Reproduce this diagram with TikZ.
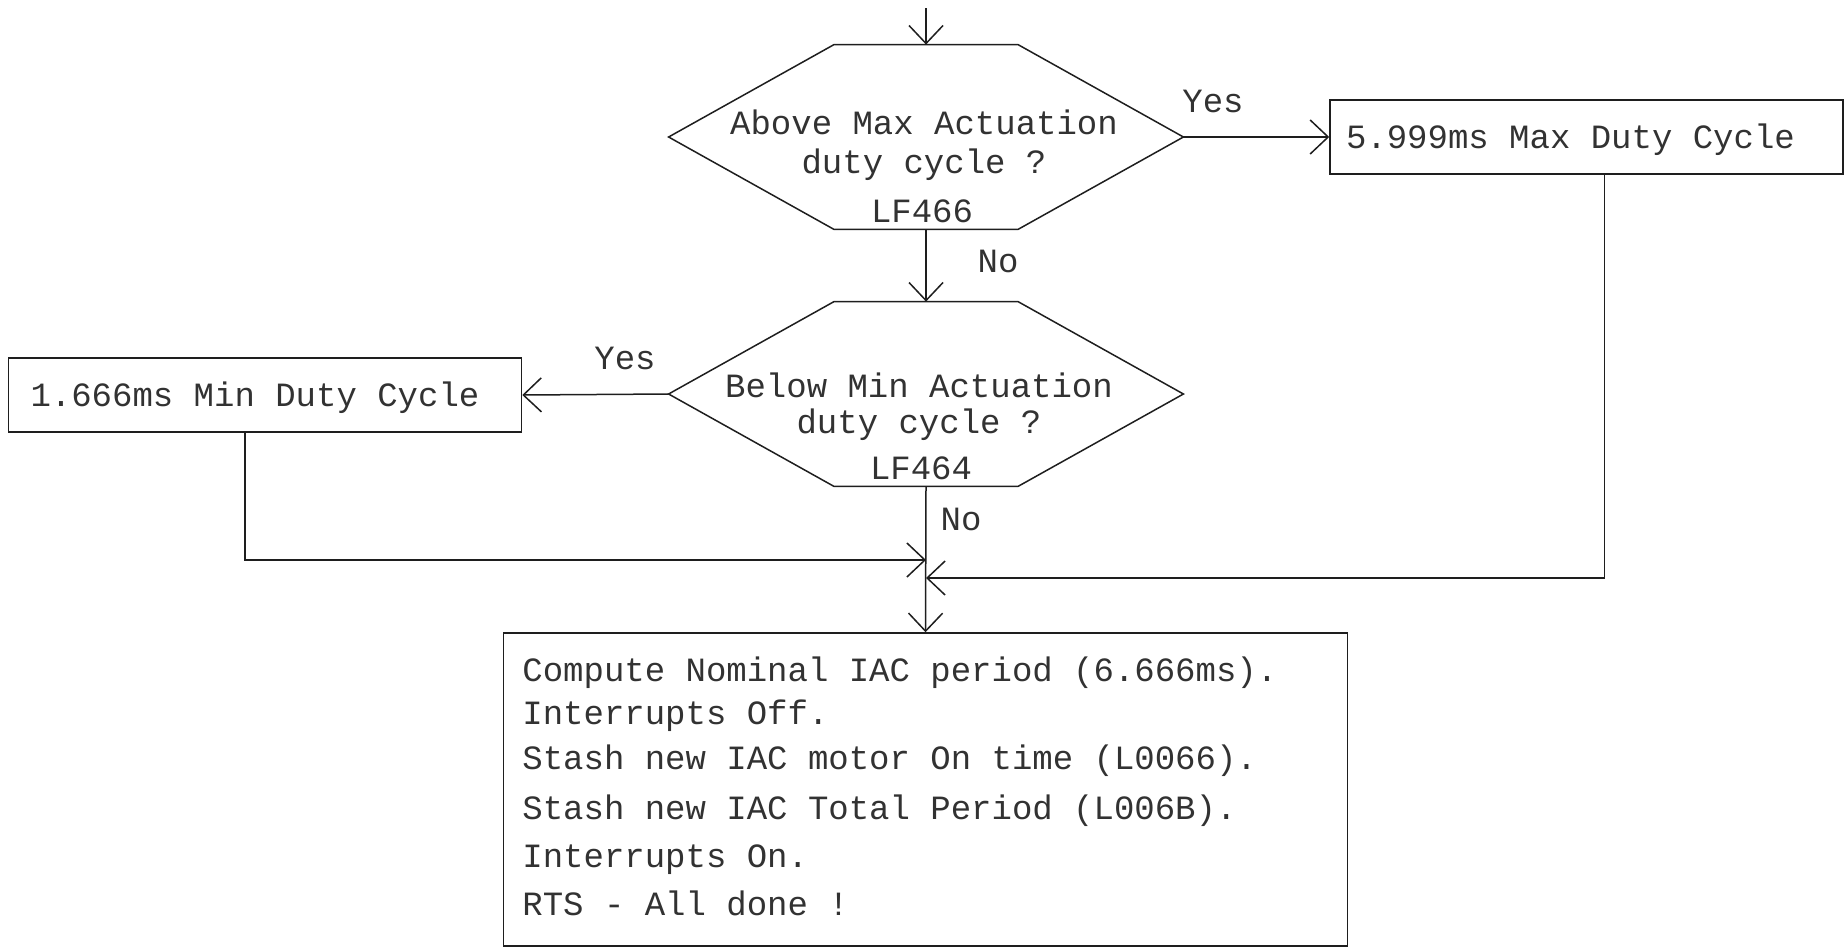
\documentclass[tikz,border=0pt]{standalone}
\usepackage{fontspec}
\newfontfamily\cad{Liberation Mono}
\usetikzlibrary{arrows.meta,calc}
\definecolor{ink}{RGB}{30,30,30}
\definecolor{textink}{RGB}{50,50,50}
\begin{document}
\begin{tikzpicture}[x=0.5pt,y=-0.5pt,
  ln/.style={line width=0.75pt, draw=ink},
  arr/.style={ln, -{Straight Barb[length=9pt,width=17pt]}},
  txt/.style={font=\cad\fontsize{17pt}{20pt}\selectfont, text=textink, inner sep=0pt},
  lbl/.style={txt, anchor=base},
  linetxt/.style={txt, anchor=base west},
  dutybox/.style={ln, rectangle, txt, minimum width=256.5pt, minimum height=37pt,
    inner xsep=8pt, inner ysep=0pt, text height=11.2pt, text depth=0pt},
  hexshape/.style={minimum width=257pt, minimum height=92pt, inner sep=0pt},
  procbox/.style={ln, rectangle, minimum width=422pt, minimum height=156.5pt, inner sep=0pt}]
\useasboundingbox (0,0) rectangle (1845,948);

% decision 1
\node[hexshape] (q1) at (926,137) {};
\draw[ln] (q1.west) -- ($(q1.north)+(-92,0)$) -- ($(q1.north)+(92,0)$) -- (q1.east)
  -- ($(q1.south)+(92,0)$) -- ($(q1.south)+(-92,0)$) -- cycle;
\node[lbl] (q1a) at (924,134) {Above Max Actuation};
\node[lbl] (q1b) at (924,173) {duty cycle ?};
\node[lbl] (q1c) at (922,222) {LF466};

% decision 2
\node[hexshape] (q2) at (926,394) {};
\draw[ln] (q2.west) -- ($(q2.north)+(-92,0)$) -- ($(q2.north)+(92,0)$) -- (q2.east)
  -- ($(q2.south)+(92,0)$) -- ($(q2.south)+(-92,0)$) -- cycle;
\node[lbl] (q2a) at (919,397) {Below Min Actuation};
\node[lbl] (q2b) at (919,433) {duty cycle ?};
\node[lbl] (q2c) at (921,479) {LF464};

% duty boxes
\node[dutybox] (maxb) at (1586.5,137) {\hbox to 240.5pt{5.999ms Max Duty Cycle\hss}};
\node[dutybox] (minb) at (265,395) {\hbox to 240.5pt{\hspace*{3pt}1.666ms Min Duty Cycle\hss}};

% process box
\node[procbox] (act) at (925.5,789.5) {};
\node[linetxt] (l1) at (522,681.5) {Compute Nominal IAC period (6.666ms).};
\node[linetxt] (l2) at (522,724.5) {Interrupts Off.};
\node[linetxt] (l3) at (522,769) {Stash new IAC motor On time (L0066).};
\node[linetxt] (l4) at (522,819) {Stash new IAC Total Period (L006B).};
\node[linetxt] (l5) at (522,867) {Interrupts On.};
\node[linetxt] (l6) at (522,915) {RTS - All done !};

% labels
\node[lbl] (yes1) at (1213,112) {Yes};
\node[lbl] (no1) at (998,272) {No};
\node[lbl] (yes2) at (625,369) {Yes};
\node[lbl] (no2) at (961,530) {No};

% connectors
\coordinate (start) at (926,8);
\coordinate (j1) at (926,560);
\coordinate (j2) at (926,578);
\draw[arr] (start) -- (q1.north);
\draw[arr] (q1.east) -- (maxb.west);
\draw[arr] (q1.south) -- (q2.north);
\draw[arr] (q2.west) -- (minb.east);
\draw[arr] (q2.south) -- (act.north);
\draw[arr] ($(minb.south west)+(237,0)$) |- (j1);
\draw[arr] ($(maxb.south west)+(275,0)$) |- (j2);
\end{tikzpicture}
\end{document}
